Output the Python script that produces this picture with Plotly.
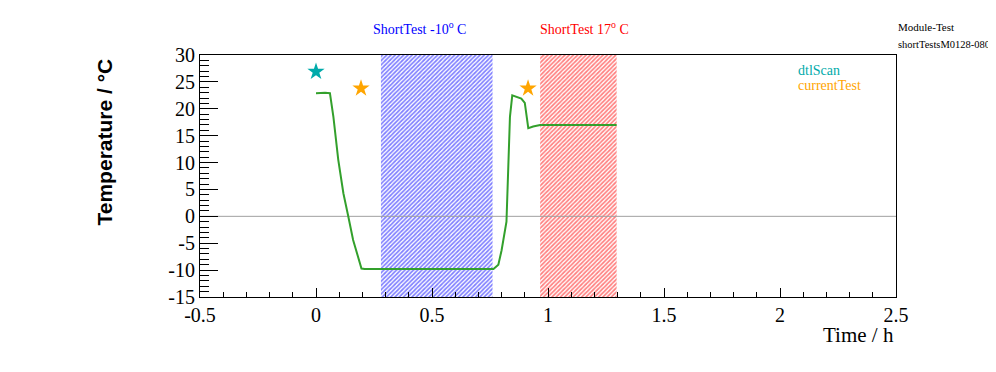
import plotly.graph_objects as go

# ---- data ----
time_h = [0.0, 0.039, 0.06, 0.075, 0.096, 0.118, 0.139, 0.16, 0.196, 0.21, 0.40, 0.60, 0.765,
          0.786, 0.80, 0.821, 0.828, 0.836, 0.846, 0.864, 0.885, 0.90, 0.915, 0.936, 0.966, 1.10, 1.296]
temp_c = [22.9, 23.0, 22.9, 18.5, 10.5, 4.3, 0.0, -4.4, -9.7, -9.8, -9.8, -9.8, -9.8,
          -9.0, -6.3, -1.0, 9.2, 18.5, 22.5, 22.2, 21.9, 21.1, 16.4, 16.7, 17.0, 17.0, 17.0]

dtl_time = [0.0]
dtl_temp = [26.9]
cur_time = [0.194, 0.914]
cur_temp = [23.8, 23.8]

cold_band = [0.28, 0.761]
warm_band = [0.966, 1.296]
y_range = [-15, 30]
x_range = [-0.5, 2.5]

x_ticks = [-0.5, 0, 0.5, 1, 1.5, 2, 2.5]
x_ticktext = ["-0.5", "0", "0.5", "1", "1.5", "2", "2.5"]
y_ticks = [-15, -10, -5, 0, 5, 10, 15, 20, 25, 30]
y_ticktext = ["-15", "-10", "-5", "0", "5", "10", "15", "20", "25", "30"]

SERIF = "Liberation Serif"

# plot area in page pixels (reference)
PL, PR, PT, PB = 200, 896, 55, 297
OFF = 8  # page body margin
PW, PH = PR - PL, PB - PT

fig = go.Figure()


def band(xs, color):
    return go.Scatter(
        x=[xs[0], xs[1], xs[1], xs[0], xs[0]],
        y=[y_range[0], y_range[0], y_range[1], y_range[1], y_range[0]],
        mode="lines", line=dict(width=0), fill="toself",
        fillcolor="rgba(0,0,0,0)",
        fillpattern=dict(shape="/", fgcolor=color, bgcolor="white", size=3, solidity=0.55),
        showlegend=False, hoverinfo="skip")


fig.add_trace(band(cold_band, "#0000ff"))
fig.add_trace(band(warm_band, "#ff0000"))

# zero line
fig.add_trace(go.Scatter(x=x_range, y=[0, 0], mode="lines",
                         line=dict(color="#a0a0a0", width=1), showlegend=False, hoverinfo="skip"))

fig.add_trace(go.Scatter(x=time_h, y=temp_c, mode="lines",
                         line=dict(color="#33a02c", width=2), showlegend=False))

fig.add_trace(go.Scatter(x=dtl_time, y=dtl_temp, mode="markers",
                         marker=dict(symbol="star", size=13, color="#00aaaa"), showlegend=False))
fig.add_trace(go.Scatter(x=cur_time, y=cur_temp, mode="markers",
                         marker=dict(symbol="star", size=13, color="#ffa500"), showlegend=False))

fig.update_xaxes(range=x_range, tickvals=x_ticks, ticktext=x_ticktext,
                 ticks="inside", ticklen=9, tickcolor="black", tickwidth=1,
                 minor=dict(dtick=0.1, tick0=0, ticks="inside", ticklen=5, tickcolor="black"),
                 showline=True, linecolor="black", linewidth=1, mirror=True,
                 showgrid=False, zeroline=False,
                 tickfont=dict(family=SERIF, size=20, color="black"))
fig.update_yaxes(range=y_range, tickvals=y_ticks, ticktext=y_ticktext,
                 ticks="inside", ticklen=18, tickcolor="black", tickwidth=1,
                 minor=dict(dtick=1, tick0=0, ticks="inside", ticklen=9, tickcolor="black"),
                 showline=True, linecolor="black", linewidth=1, mirror=True,
                 showgrid=False, zeroline=False,
                 tickfont=dict(family=SERIF, size=20, color="black"))


def px(xp):
    return (xp - PL) / PW


def py(yp):
    return (PB - yp) / PH


def note(text, x, y, color, size, xanchor, family=SERIF, **kw):
    return dict(text=text, xref="paper", yref="paper", x=px(x), y=py(y),
                xanchor=xanchor, yanchor=kw.pop("yanchor", "middle"), showarrow=False,
                font=dict(family=family, size=size, color=color), **kw)


ann_list = [
    note("ShortTest -10<sup>o</sup> C", 419, 28, "#0000ff", 14, "center"),
    note("ShortTest 17<sup>o</sup> C", 584, 28, "#ff0000", 14, "center"),
    note("Module-Test", 896, 27, "black", 11, "left"),
    note("shortTestsM0128-080108", 896, 44, "black", 10.5, "left"),
    note("dtlScan", 796, 70, "#00aaaa", 14, "left"),
    note("currentTest", 796, 85, "#ffa500", 14, "left"),
    note("Time / h", 896, 335, "black", 21, "right"),
    note("<b>Temperature / °C</b>", 104, 57, "black", 21, "center",
         family="Liberation Sans", yanchor="top", textangle=-90),
]

fig.update_layout(width=996, height=372,
                  margin=dict(l=PL - OFF, r=996 - PW - (PL - OFF), t=PT - OFF, b=372 - PH - (PT - OFF)),
                  paper_bgcolor="white", plot_bgcolor="white",
                  annotations=ann_list, showlegend=False)

fig.write_html("out.html")
